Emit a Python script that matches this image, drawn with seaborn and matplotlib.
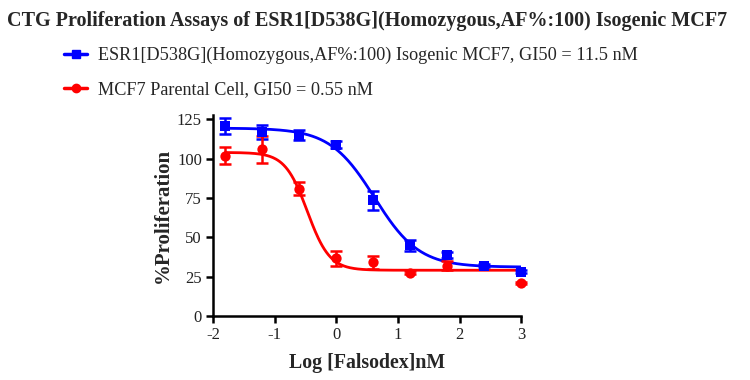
"""Dose-response curves: CTG proliferation of ESR1 D538G isogenic vs parental MCF7."""

import matplotlib

matplotlib.use("Agg")
import matplotlib.pyplot as plt
import numpy as np
import pandas as pd
import seaborn as sns

# measured points (log nM, % proliferation, error)
mut_x = [-1.8, -1.2, -0.6, 0.0, 0.6, 1.2, 1.8, 2.4, 3.0]
mut_y = [121, 117, 115, 109, 73.5, 45, 38.5, 32, 28]
mut_err = [5, 4.5, 3, 2, 6, 3.5, 2, 1, 1]

par_x = [-1.8, -1.2, -0.6, 0.0, 0.6, 1.2, 1.8, 3.0]
par_y = [102, 106, 81, 36.5, 34, 27.5, 32, 21]
par_err = [5.5, 8.5, 4, 4.5, 4, 1, 3, 0.5]

# 4-parameter logistic fit params: bottom, top, logEC50, hill
mut_fit = (31.0, 119.5, 0.62, 1.2)
par_fit = (29.0, 104.0, -0.47, 2.4)

mut_label = "ESR1[D538G](Homozygous,AF%:100) Isogenic MCF7, GI50 = 11.5 nM"
par_label = "MCF7 Parental Cell, GI50 = 0.55 nM"
title = "CTG Proliferation Assays of ESR1[D538G](Homozygous,AF%:100) Isogenic MCF7"


def four_pl(x, bottom, top, logec50, hill):
    return bottom + (top - bottom) / (1 + 10 ** ((x - logec50) * hill))


sns.set_theme(style="ticks")
plt.rcParams["font.family"] = ["Liberation Serif", "DejaVu Serif"]

fig = plt.figure(figsize=(7.5, 3.8), dpi=100)
ax = fig.add_axes([0.284, 0.169, 0.411, 0.529])

xs = np.linspace(-1.8, 3.0, 300)
series = [
    (mut_x, mut_y, mut_err, mut_fit, "#0000ff", "s", mut_label),
    (par_x, par_y, par_err, par_fit, "#ff0000", "o", par_label),
]
handles = []
for x, y, err, fit, color, marker, label in series:
    df = pd.DataFrame({"x": x, "y": y, "err": err})
    curve = pd.DataFrame({"x": xs, "y": four_pl(xs, *fit)})
    sns.lineplot(data=curve, x="x", y="y", color=color, lw=2, ax=ax)
    ax.errorbar(df["x"], df["y"], yerr=df["err"], fmt="none", ecolor=color,
                elinewidth=1.8, capsize=4, capthick=1.8, clip_on=False, zorder=3)
    sns.scatterplot(data=df, x="x", y="y", color=color, marker=marker, s=55,
                    edgecolor=color, linewidth=0, ax=ax, zorder=4, clip_on=False)
    h, = ax.plot([], [], color=color, marker=marker, lw=2.5, ms=6)
    handles.append((h, label))

ax.set_xlim(-2, 3)
ax.set_ylim(0, 128)
ax.set_xticks([-2, -1, 0, 1, 2, 3])
ax.set_yticks([0, 25, 50, 75, 100, 125])
ax.set_xticklabels(["-2", "-1", "0", "1", "2", "3"])
ax.tick_params(direction="out", length=5, width=1.8, labelsize=12, color="black",
               labelcolor="#222222", pad=3)
for side in ["left", "bottom"]:
    ax.spines[side].set_linewidth(1.8)
    ax.spines[side].set_color("black")
sns.despine(ax=ax)

ax.set_xlabel("Log [Falsodex]nM", fontsize=14.3, fontweight="bold", labelpad=7)
ax.set_ylabel("%Proliferation", fontsize=15, fontweight="bold", labelpad=3)

fig.text(0.489, 0.945, title, ha="center", va="center", fontsize=14.5,
         fontweight="bold")
fig.legend([h for h, _ in handles], [l for _, l in handles], loc="upper left",
           bbox_to_anchor=(0.063, 0.92), frameon=False, fontsize=13.15,
           handlelength=1.3, labelspacing=0.95, handletextpad=0.6)

fig.savefig("out.png", dpi=100)
